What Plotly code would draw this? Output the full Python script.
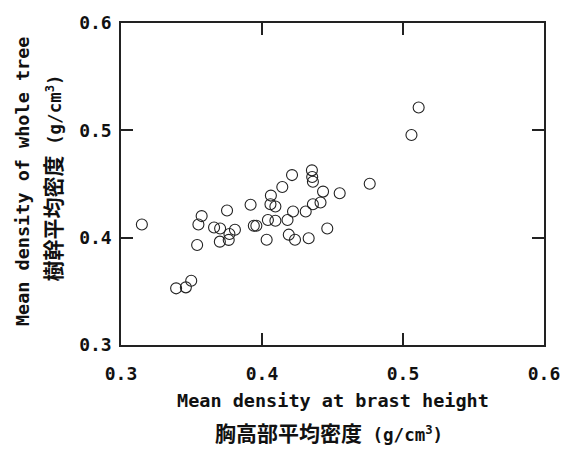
import plotly.graph_objects as go

x_bh = [0.3148, 0.3391, 0.3460, 0.3498, 0.3540, 0.3549, 0.3572, 0.3660, 0.3703, 0.3701,
        0.3752, 0.3764, 0.3769, 0.3808, 0.3919, 0.3942, 0.3960, 0.4033, 0.4042, 0.4063,
        0.4060, 0.4095, 0.4095, 0.4144, 0.4181, 0.4190, 0.4213, 0.4220, 0.4234, 0.4310,
        0.4331, 0.4354, 0.4356, 0.4361, 0.4361, 0.4415, 0.4433, 0.4463, 0.4551, 0.4764,
        0.5060, 0.5111]
y_whole = [0.4123, 0.3528, 0.3537, 0.3599, 0.3932, 0.4123, 0.4201, 0.4095, 0.4086, 0.3963,
           0.4253, 0.3979, 0.4034, 0.4074, 0.4306, 0.4111, 0.4111, 0.3981, 0.4164, 0.4392,
           0.4312, 0.4290, 0.4157, 0.4472, 0.4164, 0.4028, 0.4583, 0.4244, 0.3981, 0.4244,
           0.3994, 0.4627, 0.4565, 0.4521, 0.4312, 0.4327, 0.4429, 0.4086, 0.4414, 0.4503,
           0.4956, 0.5213]

tick_vals = [0.3, 0.4, 0.5, 0.6]
tick_text = ["0.3", "0.4", "0.5", "0.6"]

MONO = "DejaVu Sans Mono"
CJK = "Noto Sans CJK JP"

fig = go.Figure()
fig.add_trace(go.Scatter(
    x=x_bh, y=y_whole, mode="markers",
    marker=dict(symbol="circle-open", size=11, color="#222222", line=dict(width=1.1)),
    showlegend=False,
))

axis_common = dict(
    showgrid=False, zeroline=False, showline=True, linecolor="#222222", linewidth=1.5,
    mirror="ticks", ticks="inside", ticklen=12, tickwidth=1.5, tickcolor="#222222",
    tickvals=tick_vals, ticktext=tick_text,
    tickfont=dict(family=MONO, size=18, color="#111111", weight="bold"),
)
fig.update_xaxes(range=[0.3, 0.6], ticklabelstandoff=12, **axis_common)
fig.update_yaxes(range=[0.3, 0.6], ticklabelstandoff=4, **axis_common)

unit = "<span style='font-family:DejaVu Sans Mono;font-size:17.5px'> (g/cm<sup>3</sup>)</span>"

def px_x(p):
    return (p - 121) / 432

def px_y(p):
    return (345 - p) / 324

annotations = [
    dict(text="Mean density at brast height", x=px_x(337), y=px_y(401),
         xref="paper", yref="paper", xanchor="center", yanchor="middle",
         showarrow=False, font=dict(family=MONO, size=18.5, color="#111111", weight="bold")),
    dict(text="胸高部平均密度" + unit, x=px_x(333), y=px_y(433),
         xref="paper", yref="paper", xanchor="center", yanchor="middle",
         showarrow=False, font=dict(family=CJK, size=21, color="#111111", weight="bold")),
    dict(text="Mean density of whole tree", x=px_x(20), y=px_y(180),
         xref="paper", yref="paper", xanchor="center", yanchor="middle",
         textangle=-90, showarrow=False,
         font=dict(family=MONO, size=18.5, color="#111111", weight="bold")),
    dict(text="樹幹平均密度" + unit, x=px_x(51), y=px_y(177),
         xref="paper", yref="paper", xanchor="center", yanchor="middle",
         textangle=-90, showarrow=False,
         font=dict(family=CJK, size=21, color="#111111", weight="bold")),
]

fig.update_layout(
    width=572, height=450,
    margin=dict(l=121, r=19, t=21, b=105),
    paper_bgcolor="white", plot_bgcolor="white",
    annotations=annotations,
)

fig.write_html("out.html")
